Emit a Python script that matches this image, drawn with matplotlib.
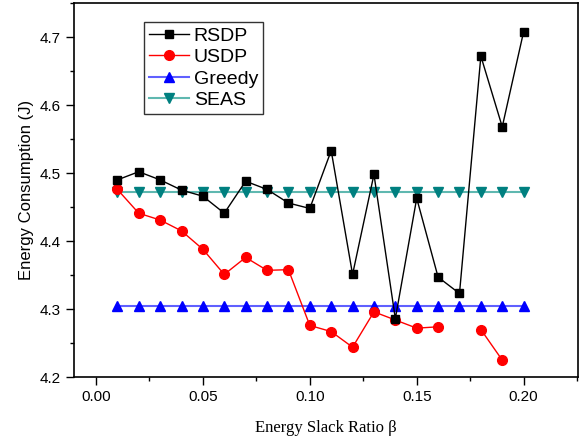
import numpy as np
import matplotlib
matplotlib.use("Agg")
import matplotlib.pyplot as plt
from matplotlib.ticker import MultipleLocator

beta = [0.01, 0.02, 0.03, 0.04, 0.05, 0.06, 0.07, 0.08, 0.09, 0.10,
        0.11, 0.12, 0.13, 0.14, 0.15, 0.16, 0.17, 0.18, 0.19, 0.20]

rsdp = [4.490, 4.502, 4.490, 4.475, 4.466, 4.441, 4.488, 4.476, 4.456, 4.448,
        4.533, 4.351, 4.498, 4.286, 4.463, 4.347, 4.323, 4.672, 4.568, 4.708]

# NaN where the USDP series has no point
usdp = [4.476, 4.441, 4.431, 4.415, 4.388, 4.351, 4.376, 4.357, 4.358, 4.276,
        4.267, 4.244, 4.296, 4.284, 4.272, 4.274, np.nan, 4.270, 4.225, np.nan]

greedy = [4.305] * 20
seas = [4.472] * 20

plt.rcParams['font.family'] = ['Liberation Sans', 'DejaVu Sans']

fig = plt.figure(figsize=(5.84, 4.37), dpi=100)
ax = fig.add_axes([0.127, 0.137, 0.863, 0.856])

ax.plot(beta, greedy, color='#6060ff', lw=1.5, marker='^', ms=7,
        mfc='blue', mec='blue', label='Greedy', zorder=2)
ax.plot(beta, seas, color='#5fb8b0', lw=1.5, marker='v', ms=7,
        mfc='#008080', mec='#008080', label='SEAS', zorder=2)
ax.plot(beta, usdp, color='red', lw=1, marker='o', ms=7,
        mfc='red', mec='red', label='USDP', zorder=3)
ax.plot(beta, rsdp, color='black', lw=1, marker='s', ms=6,
        mfc='black', mec='black', label='RSDP', zorder=4)

ax.set_xlim(-0.0102, 0.2255)
ax.set_ylim(4.2, 4.75)
ax.xaxis.set_major_locator(MultipleLocator(0.05))
ax.xaxis.set_minor_locator(MultipleLocator(0.025))
ax.yaxis.set_major_locator(MultipleLocator(0.1))
ax.yaxis.set_minor_locator(MultipleLocator(0.05))
ax.xaxis.set_major_formatter(matplotlib.ticker.FormatStrFormatter('%.2f'))
ax.yaxis.set_major_formatter(matplotlib.ticker.FormatStrFormatter('%.1f'))
ax.tick_params(which='major', direction='out', length=6, width=1, labelsize=11)
ax.tick_params(which='minor', direction='out', length=3, width=1)
for s in ax.spines.values():
    s.set_linewidth(1.2)

ax.set_xlabel('Energy Slack Ratio β', fontsize=12,
              family=['Liberation Serif', 'DejaVu Serif'], labelpad=11)
ax.set_ylabel('Energy Consumption (J)', fontsize=12, labelpad=4)

h, l = ax.get_legend_handles_labels()
order = [3, 2, 0, 1]
leg = ax.legend([h[i] for i in order], [l[i] for i in order],
                loc='upper left', bbox_to_anchor=(0.139, 0.949), fontsize=14,
                fancybox=False, framealpha=1, edgecolor='#333333',
                handlelength=2.05, handletextpad=0.25, borderpad=0.25,
                labelspacing=0.2, borderaxespad=0)
leg.get_frame().set_linewidth(1)

fig.savefig('out.png', dpi=100)
